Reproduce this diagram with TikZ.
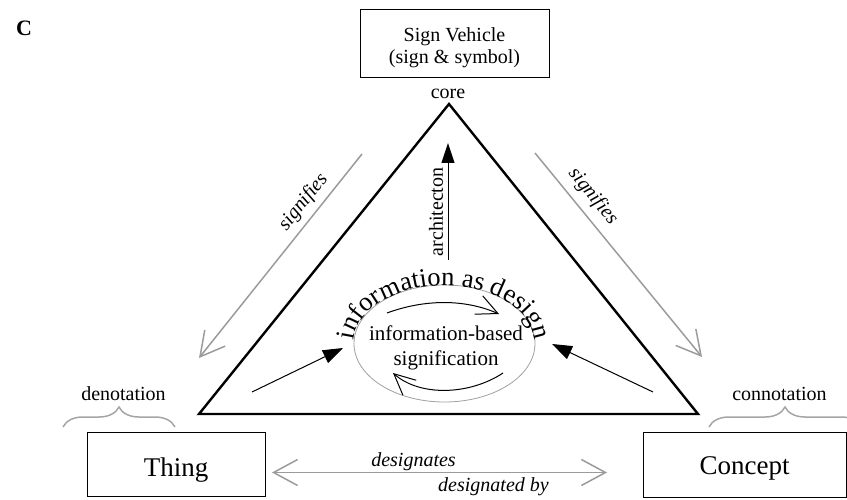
\documentclass[tikz,border=0pt]{standalone}
\usepackage{fontspec}
\setmainfont{Liberation Serif}
\usetikzlibrary{arrows.meta,decorations.pathreplacing,decorations.text}

\definecolor{linkgray}{RGB}{155,155,155}
\definecolor{bracegray}{RGB}{165,165,165}
\definecolor{ringgray}{RGB}{160,160,160}

\begin{document}
\begin{tikzpicture}[x=1pt,y=1pt,
  txt/.style={inner sep=0pt, font=\fontsize{20}{22}\selectfont},
  bigtxt/.style={inner sep=0pt, font=\fontsize{27}{30}\selectfont},
  itxt/.style={inner sep=0pt, font=\fontsize{20}{22}\selectfont\itshape},
  framebox/.style={draw, line width=0.8pt, inner sep=0pt},
  graylink/.style={draw=linkgray, line width=1.5pt,
    -{Straight Barb[length=24pt,width=26pt,line width=1.5pt]}},
  graylinkboth/.style={draw=linkgray, line width=1.5pt,
    {Straight Barb[length=24pt,width=26pt,line width=1.5pt]}-{Straight Barb[length=24pt,width=26pt,line width=1.5pt]}},
  solidarrow/.style={line width=1pt, -{Triangle[length=20pt,width=14pt]}},
  cyclearrow/.style={line width=1pt, -{Straight Barb[length=21pt,width=20pt,line width=1pt]}},
  grace/.style={draw=bracegray, line width=1.5pt, decorate,
    decoration={brace, amplitude=20pt}},
]
\useasboundingbox (0,0) rectangle (847,499);

% panel letter
\node[inner sep=0pt, font=\fontsize{22}{24}\selectfont\bfseries] (panel) at (24,470.5) {C};

% the three corners of the semiotic triangle
\node[framebox, minimum width=189pt, minimum height=68pt] (vehicle) at (454.5,456) {};
\node[txt, align=center] (vehicletext) at (454.5,451.5) {Sign Vehicle\\(sign \& symbol)};
\node[framebox, line width=1pt, minimum width=178pt, minimum height=64pt] (thing) at (176,35) {};
\node[bigtxt, anchor=base] (thingtext) at (176,22.5) {Thing};
\node[framebox, line width=1pt, minimum width=203pt, minimum height=65pt] (concept) at (744.5,34.5) {};
\node[bigtxt, anchor=base] (concepttext) at (744.5,25) {Concept};

% triangle
\coordinate (apex) at (449,395);
\coordinate (left) at (199,85);
\coordinate (right) at (698,85);
\draw[line width=2.4pt, line join=miter] (apex) -- (left) -- (right) -- cycle;
\node[txt, anchor=base] (core) at (448,400) {core};

% braces over the lower boxes
\coordinate (db1) at (63,72);
\coordinate (db2) at (175,72);
\draw[grace] (db1) -- (db2);
\node[txt, anchor=base] (denotation) at (123.5,99) {denotation};
\coordinate (cb1) at (709,72);
\coordinate (cb2) at (861,72);
\draw[grace] (cb1) -- (cb2);
\node[txt, anchor=base] (connotation) at (779.5,99) {connotation};

% signifies links
\coordinate (sl1) at (362,345);
\coordinate (sl2) at (199,141);
\draw[graylink] (sl1) -- (sl2);
\node[itxt, rotate=51.4] (signl) at (303.5,297) {signifies};
\coordinate (sr1) at (535,346);
\coordinate (sr2) at (702,142);
\draw[graylink] (sr1) -- (sr2);
\node[itxt, rotate=-50.7] (signr) at (593,302.5) {signifies};

% designates link
\coordinate (dg1) at (272,26.5);
\coordinate (dg2) at (607,26.5);
\draw[graylinkboth] (dg1) -- (dg2);
\node[itxt, anchor=base] (designates) at (413.5,32.5) {designates};
\node[itxt, anchor=base] (designatedby) at (493.5,7.5) {designated by};

% architecton
\coordinate (ar1) at (448,239);
\coordinate (ar2) at (448,356);
\draw[line width=1pt, -{Triangle[length=20pt,width=13pt]}] (ar1) -- (ar2);
\node[txt, rotate=90] (architecton) at (436,287) {architecton};

% central ellipse with its curved title
\coordinate (ellc) at (444.5,155.5);
\draw[ringgray, line width=0.8pt] (ellc) ellipse[x radius=90.5, y radius=58.5];
\path[decorate, decoration={text along path, text align=center,
    text={|\fontsize{26.5}{30}\selectfont|information as design}}]
  (354,150) arc[start angle=185, end angle=-5, x radius=90.5, y radius=58.5];
\node[inner sep=0pt, align=center, font=\fontsize{21}{25}\selectfont] (ibs) at (446,151.5)
  {information-based\\signification};

% cycle arrows inside the ellipse
\coordinate (ct1) at (387,186);
\coordinate (ct2) at (499,185);
\draw[cyclearrow] (ct1) .. controls (425,200) and (465,200) .. (ct2);
\coordinate (cyb1) at (503,126);
\coordinate (cyb2) at (393,126);
\draw[cyclearrow] (cyb1) .. controls (470,104) and (420,102) .. (cyb2);

% arrows from the lower corners into the ellipse
\coordinate (la1) at (252,107);
\coordinate (la2) at (343,151);
\draw[solidarrow] (la1) -- (la2);
\coordinate (ra1) at (653,107);
\coordinate (ra2) at (552,155);
\draw[solidarrow] (ra1) -- (ra2);
\end{tikzpicture}
\end{document}
